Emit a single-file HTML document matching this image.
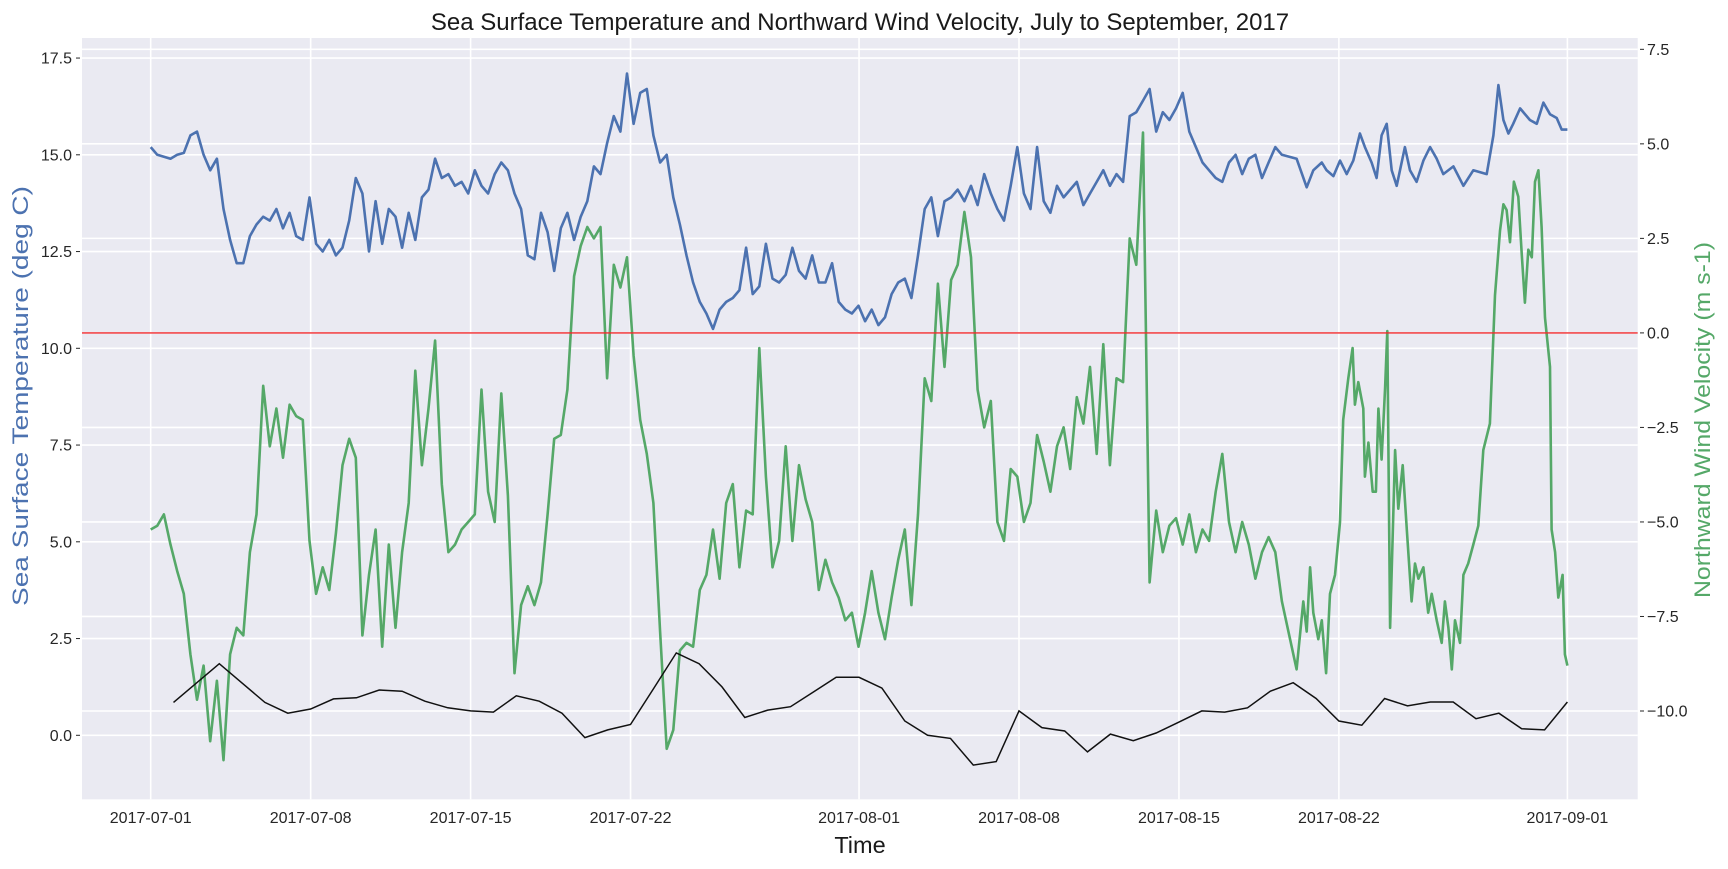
<!DOCTYPE html>
<html><head><meta charset="utf-8"><style>
html,body{margin:0;padding:0;background:#fff;}
svg text{font-family:"Liberation Sans",Arial,sans-serif;}
</style></head><body>
<svg id="chart" width="1728" height="864" viewBox="0 0 1728 864" xmlns="http://www.w3.org/2000/svg">
<rect x="0" y="0" width="1728" height="864" fill="#ffffff"/>
<rect x="82" y="38" width="1555.7" height="761.3" fill="#eaeaf2"/>
<g id="grid"></g>
<g id="series"></g>
<g id="axes"></g>
<text x="860" y="30" font-size="24" text-anchor="middle" fill="#1a1a1a">Sea Surface Temperature and Northward Wind Velocity, July to September, 2017</text>
<text x="860" y="853" font-size="23.5" text-anchor="middle" fill="#1a1a1a">Time</text>
<text transform="translate(28,396) rotate(-90)" font-size="22" text-anchor="middle" fill="#4c72b0" textLength="420" lengthAdjust="spacingAndGlyphs">Sea Surface Temperature (deg C)</text>
<text transform="translate(1710,420) rotate(-90)" font-size="22" text-anchor="middle" fill="#55a868" textLength="356" lengthAdjust="spacingAndGlyphs">Northward Wind Velocity (m s-1)</text>
</svg>
<script>
const xTickDays = [0, 7, 14, 21, 31, 38, 45, 52, 62];
const xTickLabels = ["2017-07-01","2017-07-08","2017-07-15","2017-07-22","2017-08-01","2017-08-08","2017-08-15","2017-08-22","2017-09-01"];
const leftTicks = [0, 2.5, 5, 7.5, 10, 12.5, 15, 17.5];
const leftTickLabels = ["0.0","2.5","5.0","7.5","10.0","12.5","15.0","17.5"];
const rightTicks = [-10, -7.5, -5, -2.5, 0, 2.5, 5, 7.5];
const rightTickLabels = ["\u221210.0","\u22127.5","\u22125.0","\u22122.5","0.0","2.5","5.0","7.5"];
const stepDays = 0.2895;
const sstMain = [15.2,15.0,14.95,14.9,15.0,15.05,15.5,15.6,15.0,14.6,14.9,13.6,12.8,12.2,12.2,12.9,13.2,13.4,13.3,13.6,13.1,13.5,12.9,12.8,13.9,12.7,12.5,12.8,12.4,12.6,13.3,14.4,14.0,12.5,13.8,12.7,13.6,13.4,12.6,13.5,12.8,13.9,14.1,14.9,14.4,14.5,14.2,14.3,14.0,14.6,14.2,14.0,14.5,14.8,14.6,14.0,13.6,12.4,12.3,13.5,13.0,12.0,13.1,13.5,12.8,13.4,13.8,14.7,14.5,15.3,16.0,15.6,17.1,15.8,16.6,16.7,15.5,14.8,15.0,13.9,13.2,12.4,11.7,11.2,10.9,10.5,11.0,11.2,11.3,11.5,12.6,11.4,11.6,12.7,11.8,11.7,11.9,12.6,12.0,11.8,12.4,11.7,11.7,12.2,11.2,11.0,10.9,11.1,10.7,11.0,10.6,10.8,11.4,11.7,11.8,11.3,12.4,13.6,13.9,12.9,13.8,13.9,14.1,13.8,14.2,13.7,14.5,14.0,13.6,13.3,14.2,15.2,14.0,13.6,15.2,13.8,13.5,14.2,13.9,14.1,14.3,13.7,14.0,14.3,14.6,14.2,14.5,14.3,16.0,16.1,16.4,16.7,15.6,16.1,15.9,16.2,16.6,15.6,15.2,14.8,14.6,14.4,14.3,14.8,15.0,14.5,14.9,15.0,14.4,14.8,15.2,15.0];
const sstTailDays = [50.15,50.59,50.88,51.25,51.46,51.76,52.05,52.34,52.63,52.92,53.14,53.43,53.65,53.87,54.09,54.31,54.53,54.89,55.11,55.4,55.7,55.99,56.28,56.57,57.01,57.45,57.88,58.47,58.76,58.98,59.2,59.42,59.63,59.93,60.36,60.66,60.95,61.24,61.53,61.75,62.0];
const sstTail = [14.9,14.16,14.6,14.8,14.6,14.45,14.85,14.5,14.85,15.55,15.2,14.8,14.4,15.5,15.8,14.6,14.2,15.2,14.6,14.3,14.85,15.2,14.9,14.5,14.7,14.2,14.6,14.5,15.5,16.8,15.9,15.55,15.8,16.2,15.9,15.8,16.35,16.05,15.95,15.65,15.65];
const windMain = [-5.2,-5.1,-4.8,-5.6,-6.3,-6.9,-8.5,-9.7,-8.8,-10.8,-9.2,-11.3,-8.5,-7.8,-8.0,-5.8,-4.8,-1.4,-3.0,-2.0,-3.3,-1.9,-2.2,-2.3,-5.5,-6.9,-6.2,-6.8,-5.3,-3.5,-2.8,-3.3,-8.0,-6.4,-5.2,-8.3,-5.6,-7.8,-5.8,-4.5,-1.0,-3.5,-2.0,-0.2,-4.0,-5.8,-5.6,-5.2,-5.0,-4.8,-1.5,-4.2,-5.0,-1.6,-4.3,-9.0,-7.2,-6.7,-7.2,-6.6,-4.8,-2.8,-2.7,-1.5,1.5,2.3,2.8,2.5,2.8,-1.2,1.8,1.2,2.0,-0.6,-2.3,-3.2,-4.5,-7.9,-11.0,-10.5,-8.4,-8.2,-8.3,-6.8,-6.4,-5.2,-6.5,-4.5,-4.0,-6.2,-4.7,-4.8,-0.4,-3.8,-6.2,-5.5,-3.0,-5.5,-3.5,-4.4,-5.0,-6.8,-6.0,-6.6,-7.0,-7.6,-7.4,-8.3,-7.4,-6.3,-7.4,-8.1,-7.0,-6.0,-5.2,-7.2,-4.8,-1.2,-1.8,1.3,-0.9,1.4,1.8,3.2,2.0,-1.5,-2.5,-1.8,-5.0,-5.5,-3.6,-3.8,-5.0,-4.5,-2.7,-3.4,-4.2,-3.0,-2.5,-3.6,-1.7,-2.4,-0.9,-3.2,-0.3,-3.5,-1.2,-1.3,2.5,1.8,5.3,-6.6,-4.7,-5.8,-5.1,-4.9,-5.6,-4.8,-5.8,-5.2,-5.5,-4.2,-3.2,-5.0,-5.8,-5.0,-5.6,-6.5,-5.8,-5.4,-5.8,-7.1];
const windTailDays = [50.15,50.44,50.59,50.74,50.88,51.1,51.25,51.44,51.61,51.83,52.05,52.19,52.41,52.6,52.7,52.85,53.07,53.14,53.29,53.48,53.62,53.73,53.87,54.02,54.12,54.24,54.46,54.6,54.79,54.97,55.18,55.33,55.48,55.7,55.91,56.06,56.28,56.5,56.64,56.79,56.94,57.08,57.3,57.45,57.66,57.88,58.1,58.32,58.61,58.83,59.05,59.2,59.34,59.49,59.66,59.85,60.0,60.14,60.29,60.44,60.58,60.73,60.87,61.02,61.24,61.31,61.46,61.6,61.79,61.89,62.0];
const windTail = [-8.9,-7.1,-7.9,-6.2,-7.4,-8.1,-7.6,-9.0,-6.9,-6.4,-5.0,-2.3,-1.2,-0.4,-1.9,-1.3,-2.0,-3.8,-2.9,-4.2,-4.2,-2.0,-3.35,-1.45,0.05,-7.8,-3.1,-4.65,-3.5,-5.2,-7.1,-6.1,-6.5,-6.2,-7.4,-6.9,-7.6,-8.2,-7.1,-7.8,-8.9,-7.6,-8.2,-6.4,-6.1,-5.6,-5.1,-3.1,-2.4,1.0,2.7,3.4,3.25,2.4,4.0,3.6,2.1,0.8,2.2,2.0,4.0,4.3,2.8,0.4,-0.9,-5.2,-5.8,-7.0,-6.4,-8.5,-8.8];
const dailyDays = [1,2,3,4,5,6,7,8,9,10,11,12,13,14,15,16,17,18,19,20,21,22,23,24,25,26,27,28,29,30,31,32,33,34,35,36,37,38,39,40,41,42,43,44,45,46,47,48,49,50,51,52,53,54,55,56,57,58,59,60,61,62];
const dailyVals = [0.85,1.35,1.85,1.35,0.85,0.57,0.68,0.94,0.97,1.17,1.14,0.88,0.71,0.63,0.6,1.02,0.88,0.57,-0.06,0.14,0.28,1.2,2.13,1.85,1.25,0.46,0.65,0.74,1.12,1.5,1.5,1.22,0.37,0.0,-0.08,-0.77,-0.68,0.63,0.2,0.11,-0.43,0.03,-0.14,0.06,0.34,0.63,0.6,0.71,1.14,1.36,0.95,0.37,0.26,0.95,0.76,0.86,0.86,0.43,0.57,0.17,0.14,0.86];

const NS = "http://www.w3.org/2000/svg";
const PL = 82, PR = 1637.7, PT = 38, PB = 799.3;
function xScale(d){ return 150.7 + d * 22.85; }
function yLeft(v){ return 735.3 - v * 38.70; }
function yRight(v){ return 332.9 - v * 37.81; }
function mk(tag, attrs, parent){
  const e = document.createElementNS(NS, tag);
  for (const k in attrs) e.setAttribute(k, attrs[k]);
  parent.appendChild(e);
  return e;
}
const grid = document.getElementById('grid');
const series = document.getElementById('series');
const axes = document.getElementById('axes');

xTickDays.forEach((d, i) => {
  const x = xScale(d);
  const g = mk('line', {x1:x, x2:x, y1:PT, y2:PB, stroke:'#ffffff', 'stroke-width':1.6}, grid);
  
  
  const t = mk('text', {x:x, y:823, 'font-size':16, 'text-anchor':'middle', fill:'#262626'}, axes);
  t.textContent = xTickLabels[i];
  
  
});
leftTicks.forEach((v, i) => {
  const y = yLeft(v);
  const g = mk('line', {x1:PL, x2:PR, y1:y, y2:y, stroke:'#ffffff', 'stroke-width':1.6}, grid);
  
  
  mk('line', {x1:76, x2:80, y1:y, y2:y, stroke:'#262626', 'stroke-width':1}, axes);
  const t = mk('text', {x:72, y:y + 5.5, 'font-size':16, 'text-anchor':'end', fill:'#262626'}, axes);
  t.textContent = leftTickLabels[i];
  
  
});
rightTicks.forEach((v, i) => {
  const y = yRight(v);
  const g = mk('line', {x1:PL, x2:PR, y1:y, y2:y, stroke:'#ffffff', 'stroke-width':1.6}, grid);
  
  
  mk('line', {x1:1640, x2:1644, y1:y, y2:y, stroke:'#262626', 'stroke-width':1}, axes);
  const t = mk('text', {x:1647, y:y + 5.5, 'font-size':16, 'text-anchor':'start', fill:'#262626'}, axes);
  t.textContent = rightTickLabels[i];
  
  
});

function pathFrom(days, vals, ys){
  let s = '';
  for (let i = 0; i < vals.length; i++){
    s += (i ? 'L' : 'M') + xScale(days[i]).toFixed(1) + ',' + ys(vals[i]).toFixed(1);
  }
  return s;
}
const mainDays = sstMain.map((v, i) => i * stepDays);
const sstDays = mainDays.concat(sstTailDays);
const sstVals = sstMain.concat(sstTail);
const windDays = windMain.map((v, i) => i * stepDays).concat(windTailDays);
const windVals = windMain.concat(windTail);

const sstLine = mk('path', {d:pathFrom(sstDays, sstVals, yLeft), fill:'none', stroke:'#4c72b0', 'stroke-width':2.6, 'stroke-linejoin':'round'}, series);


const windLine = mk('path', {d:pathFrom(windDays, windVals, yRight), fill:'none', stroke:'#55a868', 'stroke-width':2.6, 'stroke-linejoin':'round'}, series);


const zero = mk('line', {x1:PL, x2:PR, y1:yRight(0), y2:yRight(0), stroke:'#f0282b', 'stroke-width':1.4}, series);


const daily = mk('path', {d:pathFrom(dailyDays, dailyVals, yLeft), fill:'none', stroke:'#111111', 'stroke-width':1.5}, series);


</script>
</body></html>
